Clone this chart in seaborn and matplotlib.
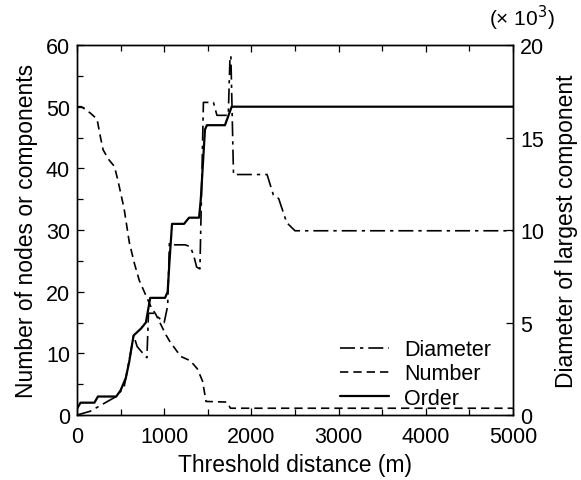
import matplotlib
matplotlib.use("Agg")
import matplotlib.pyplot as plt
import seaborn as sns
from matplotlib.ticker import MultipleLocator

# threshold distance (m) and values
order_x = [0, 40, 200, 240, 450, 500, 560, 600, 649, 733, 790, 840, 1010, 1040,
           1060, 1090, 1228, 1285, 1400, 1420, 1468, 1490, 1697, 1774, 5000]
order_y = [1, 2, 2, 3, 3, 4, 6, 8.7, 12.9, 14, 15, 19, 19, 20,
           24.7, 31, 31, 32, 32, 35, 46.3, 47, 47, 50, 50]

number_x = [0, 50, 150, 230, 270, 300, 360, 430, 470, 540, 600, 660, 715, 790,
            850, 905, 1020, 1066, 1190, 1300, 1380, 1440, 1480, 1720, 1760, 5000]
number_y = [50, 50, 49, 48, 45, 43, 41.5, 40.3, 38, 33.5, 28, 24.5, 21.8, 19.4,
            17.5, 16.3, 13, 11.9, 9.5, 8.8, 7.5, 5.5, 2.2, 2.1, 1.1, 1.1]

# diameter of largest component (x 10^3)
diam_x = [0, 150, 300, 450, 540, 600, 650, 690, 780, 802, 820, 880, 1000, 1040,
          1060, 1120, 1240, 1300, 1340, 1372, 1410, 1450, 1565, 1605, 1735,
          1755, 1765, 1795, 2180, 2252, 2313, 2405, 2500, 5000]
diam_y = [0, 0.2, 0.6, 1.0, 1.5, 3.0, 4.3, 3.7, 3.2, 3.1, 5.5, 5.5, 5.0, 5.9,
          9.3, 9.2, 9.2, 9.1, 8.6, 8.0, 7.9, 16.9, 16.9, 16.2, 16.2,
          19.4, 19.4, 13.0, 13.0, 11.9, 11.7, 10.4, 9.96, 9.96]

sns.set_style("ticks")
plt.rcParams["font.family"] = ["Liberation Sans", "DejaVu Sans"]
plt.rcParams["text.color"] = "black"
plt.rcParams["axes.labelcolor"] = "black"
plt.rcParams["xtick.color"] = "black"
plt.rcParams["ytick.color"] = "black"

fig = plt.figure(figsize=(5.81, 4.81), dpi=100)
ax = fig.add_axes([0.1325, 0.1351, 0.7504, 0.7692])
ax2 = ax.twinx()

sns.lineplot(x=order_x, y=order_y, ax=ax, color="black", lw=1.6,
             estimator=None, sort=False, label="Order")
sns.lineplot(x=number_x, y=number_y, ax=ax, color="black", lw=1.2,
             estimator=None, sort=False, label="Number")
ax.lines[-1].set_linestyle((0, (5, 3)))
sns.lineplot(x=diam_x, y=diam_y, ax=ax2, color="black", lw=1.2,
             estimator=None, sort=False, label="Diameter")
ax2.lines[-1].set_linestyle((0, (9, 3, 2, 3)))

ax.set_xlim(0, 5000)
ax.set_ylim(0, 60)
ax2.set_ylim(0, 20)
ax.xaxis.set_major_locator(MultipleLocator(1000))
ax.xaxis.set_minor_locator(MultipleLocator(500))
ax.yaxis.set_major_locator(MultipleLocator(10))
ax.yaxis.set_minor_locator(MultipleLocator(5))
ax2.yaxis.set_major_locator(MultipleLocator(5))
ax.tick_params(which="both", direction="in", top=True, labelsize=15.5,
               length=5, width=0.9, colors="black")
ax.tick_params(axis="x", which="both", pad=8)
ax.tick_params(axis="y", which="both", pad=5)
ax.tick_params(which="minor", length=4)
ax2.tick_params(which="both", direction="in", labelsize=15.5, length=5,
                width=0.9, pad=5, colors="black")

for a in (ax, ax2):
    for s in a.spines.values():
        s.set_visible(True)
        s.set_linewidth(1.0)
        s.set_color("black")

ax.set_xlabel("Threshold distance (m)", fontsize=16.5, labelpad=4)
ax.set_ylabel("Number of nodes or components", fontsize=16.5, labelpad=6)
ax2.set_ylabel("Diameter of largest component", fontsize=16.5, labelpad=8)
ax2.text(1.02, 1.076, "(× 10$^3$)", transform=ax2.transAxes, fontsize=15,
         ha="center", va="center")

ax.get_legend().remove()
h1, l1 = ax.get_legend_handles_labels()
h2, l2 = ax2.get_legend_handles_labels()
handles = [h2[0], h1[1], h1[0]]
labels = [l2[0], l1[1], l1[0]]
ax2.legend(handles, labels, loc="lower right", bbox_to_anchor=(0.995, -0.035),
           frameon=False, fontsize=15.5, handlelength=2.3, labelspacing=0.15,
           handletextpad=0.7, borderpad=0.4)

fig.savefig("out.png", dpi=100)
